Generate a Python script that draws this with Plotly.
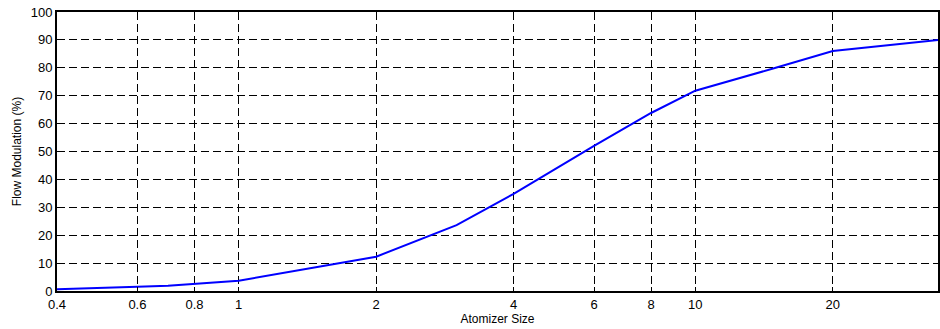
import numpy as np
import plotly.graph_objects as go

# Flow modulation curve vs atomizer size
atomizer_size = [0.4, 0.5, 0.6, 0.7, 0.8, 1, 2, 3, 4, 6, 8, 10, 15, 20, 34]
flow_modulation = [0.6, 1.0, 1.5, 1.9, 2.5, 3.7, 12.3, 23.6, 34.8, 52, 63.8, 71.8, 80, 86, 90]

x_tick_vals = [0.4, 0.6, 0.8, 1, 2, 4, 6, 8, 10, 20]
x_tick_text = ["0.4", "0.6", "0.8", "1", "2", "4", "6", "8", "10", "20"]
y_tick_vals = list(range(0, 101, 10))

fig = go.Figure()
fig.add_trace(go.Scatter(
    x=atomizer_size, y=flow_modulation, mode="lines",
    line=dict(color="#0000ff", width=2), showlegend=False,
))

font_family = "Liberation Sans, Arial, sans-serif"

fig.update_layout(
    width=940, height=329,
    margin=dict(l=57, r=0, t=12, b=38),
    paper_bgcolor="white", plot_bgcolor="white",
    font=dict(family=font_family, size=13, color="black"),
    xaxis=dict(
        type="log", range=[np.log10(0.4), np.log10(34)],
        tickvals=x_tick_vals, ticktext=x_tick_text,
        showgrid=True, gridcolor="black", gridwidth=1, griddash="8px,4px",
        showline=True, linecolor="black", linewidth=2, mirror=True,
        ticks="inside", ticklen=4, tickcolor="black",
        zeroline=False,
        title=dict(text="Atomizer Size", font=dict(size=12), standoff=2),
        tickfont=dict(size=13),
    ),
    yaxis=dict(
        range=[0, 100], tickvals=y_tick_vals,
        showgrid=True, gridcolor="black", gridwidth=1, griddash="8px,4px",
        showline=True, linecolor="black", linewidth=2, mirror=True,
        ticks="inside", ticklen=4, tickcolor="black",
        zeroline=False,
        title=dict(text="Flow Modulation (%)", font=dict(size=12), standoff=6),
        tickfont=dict(size=13),
    ),
)

fig.write_html("out.html")
